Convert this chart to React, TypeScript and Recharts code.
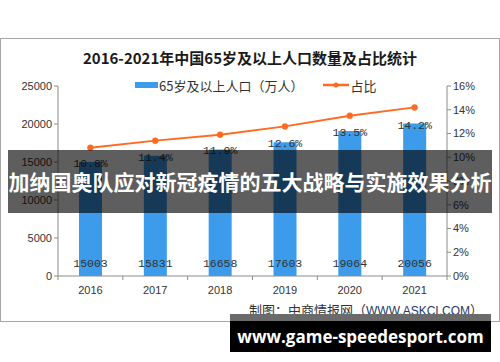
import { ComposedChart, Bar, Line, XAxis, YAxis, LabelList } from 'recharts';

const years = ['2016', '2017', '2018', '2019', '2020', '2021'];
const population = [15003, 15831, 16658, 17603, 19064, 20056];
const share = [10.8, 11.4, 11.9, 12.6, 13.5, 14.2];
const leftTicks = [0, 5000, 10000, 15000, 20000, 25000];
const rightTicks = [0, 2, 4, 6, 8, 10, 12, 14, 16];

const data = years.map((year, i) => ({
  year,
  population: population[i],
  share: share[i],
}));

const BAR_COLOR = '#3c9beb';
const LINE_COLOR = '#ff6a21';
const AXIS_COLOR = '#8c8c8c';
const TEXT_COLOR = '#333333';

const XTick = (props: any) => {
  const { x, y, payload, index } = props;
  const half = payload.offset || 0;
  const top = y - 8;
  return (
    <g>
      <line x1={x - half} y1={top} x2={x - half} y2={top + 4} stroke={AXIS_COLOR} />
      {index === years.length - 1 && (
        <line x1={x + half} y1={top} x2={x + half} y2={top + 4} stroke={AXIS_COLOR} />
      )}
      <text
        x={x}
        y={y + 10}
        textAnchor="middle"
        fontSize={11}
        fontFamily="Liberation Sans"
        fill={TEXT_COLOR}
      >
        {payload.value}
      </text>
    </g>
  );
};

const BottomValue = (props: any) => {
  const { x, y, width, height, value } = props;
  return (
    <text
      x={x + width / 2}
      y={y + height - 9}
      textAnchor="middle"
      fontSize={11.5}
      fontFamily="Liberation Mono"
      fill={TEXT_COLOR}
    >
      {value}
    </text>
  );
};

const TopShare = (props: any) => {
  const { x, y, width, index } = props;
  return (
    <text
      x={x + width / 2}
      y={y + 5}
      textAnchor="middle"
      fontSize={11.5}
      fontFamily="Liberation Mono"
      fill={TEXT_COLOR}
    >
      {`${share[index]}%`}
    </text>
  );
};

export default function App() {
  return (
    <div
      style={{
        position: 'absolute',
        left: 0,
        top: 0,
        width: 500,
        height: 362,
        background: '#fff',
        overflow: 'hidden',
        fontFamily: '"Noto Sans CJK SC", "Liberation Sans", sans-serif',
      }}
    >
      {/* chart frame */}
      <div
        style={{
          position: 'absolute',
          left: 0,
          top: 38,
          width: 500,
          height: 284,
          border: '1px solid #a6a6a6',
          boxSizing: 'border-box',
        }}
      />

      <div
        style={{
          position: 'absolute',
          top: 46,
          left: 0,
          width: 500,
          textAlign: 'center',
          fontSize: 15,
          fontWeight: 700,
          color: '#1a1a1a',
          lineHeight: '24px',
        }}
      >
        2016-2021年中国65岁及以上人口数量及占比统计
      </div>

      {/* legend */}
      <div
        style={{
          position: 'absolute',
          top: 76,
          left: 135,
          height: 18,
          display: 'flex',
          alignItems: 'center',
          fontSize: 13,
          color: TEXT_COLOR,
          whiteSpace: 'nowrap',
        }}
      >
        <span style={{ display: 'inline-block', width: 23, height: 6, background: BAR_COLOR, marginRight: 1 }} />
        <span>65岁及以上人口（万人）</span>
        <svg width={26} height={10} style={{ marginLeft: 20 }}>
          <line x1={0} y1={5} x2={26} y2={5} stroke={LINE_COLOR} strokeWidth={2.5} />
          <circle cx={13} cy={5} r={2.5} fill={LINE_COLOR} />
        </svg>
        <span style={{ marginLeft: 1 }}>占比</span>
      </div>

      <div style={{ position: 'absolute', left: 0, top: 0 }}>
        <ComposedChart
          width={500}
          height={362}
          data={data}
          margin={{ top: 86, right: 0, bottom: 56, left: 0 }}
        >
          <XAxis
            dataKey="year"
            height={30}
            axisLine={{ stroke: AXIS_COLOR }}
            tickLine={false}
            tick={<XTick />}
            interval={0}
          />
          <YAxis
            yAxisId="left"
            width={58}
            domain={[0, 25000]}
            ticks={leftTicks}
            axisLine={{ stroke: AXIS_COLOR }}
            tickLine={{ stroke: AXIS_COLOR }}
            tickSize={4}
            tick={{ fontSize: 11, fontFamily: 'Liberation Sans', fill: TEXT_COLOR }}
          />
          <YAxis
            yAxisId="right"
            orientation="right"
            width={53}
            domain={[0, 16]}
            ticks={rightTicks}
            tickFormatter={(v) => `${v}%`}
            axisLine={{ stroke: AXIS_COLOR }}
            tickLine={{ stroke: AXIS_COLOR }}
            tickSize={4}
            tick={{ fontSize: 11, fontFamily: 'Liberation Sans', fill: TEXT_COLOR }}
          />
          <Bar
            yAxisId="left"
            dataKey="population"
            fill={BAR_COLOR}
            barSize={23}
            isAnimationActive={false}
          >
            <LabelList dataKey="population" content={<BottomValue />} />
            <LabelList dataKey="population" content={<TopShare />} />
          </Bar>
          <Line
            yAxisId="right"
            dataKey="share"
            stroke={LINE_COLOR}
            strokeWidth={2}
            dot={{ r: 3, fill: LINE_COLOR, stroke: LINE_COLOR, strokeWidth: 0.5 }}
            isAnimationActive={false}
          />
        </ComposedChart>
      </div>

      <div
        style={{
          position: 'absolute',
          right: 17,
          top: 300,
          fontSize: 13,
          color: TEXT_COLOR,
          whiteSpace: 'nowrap',
        }}
      >
        制图：中商情报网（<span style={{ fontFamily: 'Liberation Sans', fontSize: 12, color: '#1f3864' }}>WWW.ASKCI.COM</span>）
      </div>

      {/* overlay band */}
      <div
        style={{
          position: 'absolute',
          left: 8,
          top: 150,
          width: 484,
          height: 63,
          background: 'rgba(0,0,0,0.63)',
          color: '#fff',
          fontSize: 21,
          fontWeight: 700,
          lineHeight: '63px',
          textAlign: 'center',
          whiteSpace: 'nowrap',
        }}
      >
        加纳国奥队应对新冠疫情的五大战略与实施效果分析
      </div>

      {/* bottom banner */}
      <div
        style={{
          position: 'absolute',
          left: 230,
          top: 314,
          width: 261,
          height: 38,
          background: 'linear-gradient(#6b6b6b 0px, #6b6b6b 7px, #000 7px)',
          color: '#fff',
          fontFamily: '"Open Sans", sans-serif',
          fontSize: 17,
          fontWeight: 700,
          textAlign: 'center',
          lineHeight: '46px',
          whiteSpace: 'nowrap',
        }}
      >
        www.game-speedesport.com
      </div>
    </div>
  );
}
